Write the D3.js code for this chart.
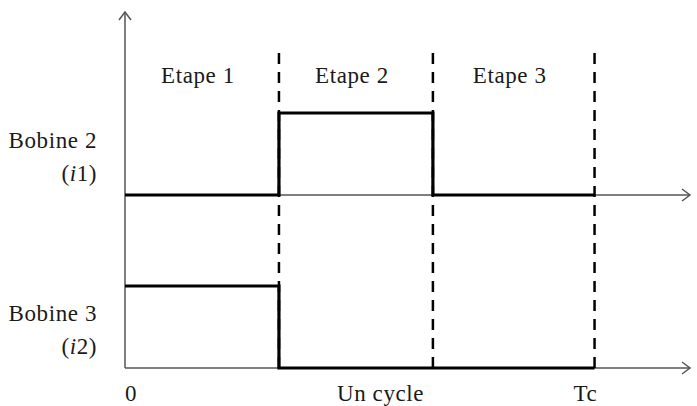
<!DOCTYPE html>
<html>
<head>
<meta charset="utf-8">
<script src="https://cdn.jsdelivr.net/npm/d3@7"></script>
<style>
  body { margin: 0; background: #fff; }
  text { font-family: "Liberation Serif", "DejaVu Serif", serif; fill: #1a1a1a; letter-spacing: 0.6px; }
</style>
</head>
<body>
<div class="chart"></div>
<script>
var stages = ['Etape 1', 'Etape 2', 'Etape 3'];
var bounds = [0, 1, 2, 3.05];       // stage limits, in stage units (Tc = 3.05)
var coils = ['Bobine 2', 'Bobine 3'];
var currents = ['1', '2'];
var levels = [[0, 1, 0], [1, 0, 0]];  // i1, i2 for each stage
var bottomLabels = [{t: 0, s: '0'}, {t: 1.66, s: 'Un cycle'}, {t: 2.99, s: 'Tc'}];

var width = 697, height = 406;

var svg = d3.select('.chart')
  .append('svg')
    .attr('width', width)
    .attr('height', height);

var x = d3.scaleLinear().domain([0, 3.67]).range([125, 690]);
var row = d3.scalePoint().domain(coils).range([195, 368]);
var lvl = d3.scaleLinear().domain([0, 1]).range([0, -82]);

//axes
var axisColor = '#555';
svg.append('line')
  .attr('x1', x(0)).attr('x2', x(0))
  .attr('y1', row(coils[1])).attr('y2', 12)
  .attr('stroke', axisColor).attr('stroke-width', 1.5);
svg.append('path')
  .attr('d', 'M' + (x(0) - 6) + ',20L' + x(0) + ',12L' + (x(0) + 6) + ',20')
  .attr('fill', 'none').attr('stroke', axisColor).attr('stroke-width', 1.5);

coils.forEach(function(c) {
  var y0 = row(c);
  svg.append('line')
    .attr('x1', x(0)).attr('x2', x(3.67))
    .attr('y1', y0).attr('y2', y0)
    .attr('stroke', axisColor).attr('stroke-width', 1.5);
  svg.append('path')
    .attr('d', 'M' + (x(3.67) - 8) + ',' + (y0 - 6) + 'L' + x(3.67) + ',' + y0 + 'L' + (x(3.67) - 8) + ',' + (y0 + 6))
    .attr('fill', 'none').attr('stroke', axisColor).attr('stroke-width', 1.5);
});

//dashed stage limits
svg.selectAll('.limit')
  .data(bounds.slice(1))
  .enter()
  .append('line')
    .attr('class', 'limit')
    .attr('x1', function(d) { return x(d); })
    .attr('x2', function(d) { return x(d); })
    .attr('y1', 53)
    .attr('y2', row(coils[1]))
    .attr('stroke', '#000')
    .attr('stroke-width', 2.5)
    .attr('stroke-dasharray', '11,8');

//signals
var line = d3.line()
  .x(function(d) { return x(d[0]); })
  .y(function(d) { return d[1]; })
  .curve(d3.curveStepAfter);

coils.forEach(function(c, k) {
  var pts = levels[k].map(function(v, i) { return [bounds[i], row(c) + lvl(v)]; });
  pts.push([bounds[3], row(c) + lvl(levels[k][2])]);
  svg.append('path')
    .attr('d', line(pts))
    .attr('fill', 'none')
    .attr('stroke', '#000')
    .attr('stroke-width', 3.2)
    .attr('stroke-linejoin', 'miter');
});

//stage titles
svg.selectAll('.stage')
  .data(stages)
  .enter()
  .append('text')
    .attr('class', 'stage')
    .attr('x', function(d, i) { return (x(bounds[i]) + x(bounds[i + 1])) / 2 - 4; })
    .attr('y', 83)
    .attr('text-anchor', 'middle')
    .attr('font-size', 23)
    .text(function(d) { return d; });

//coil labels
coils.forEach(function(c, k) {
  var y0 = row(c);
  svg.append('text')
    .attr('x', 97).attr('y', y0 - 47)
    .attr('text-anchor', 'end')
    .attr('font-size', 23)
    .text(c);
  var t = svg.append('text')
    .attr('x', 97).attr('y', y0 - 14)
    .attr('text-anchor', 'end')
    .attr('font-size', 23);
  t.append('tspan').text('(');
  t.append('tspan').attr('font-style', 'italic').text('i');
  t.append('tspan').text(currents[k] + ')');
});

//time labels
svg.selectAll('.tlabel')
  .data(bottomLabels)
  .enter()
  .append('text')
    .attr('class', 'tlabel')
    .attr('x', function(d) { return x(d.t); })
    .attr('y', 401)
    .attr('text-anchor', function(d, i) { return i == 0 ? 'start' : 'middle'; })
    .attr('font-size', 23)
    .text(function(d) { return d.s; });
</script>
</body>
</html>
